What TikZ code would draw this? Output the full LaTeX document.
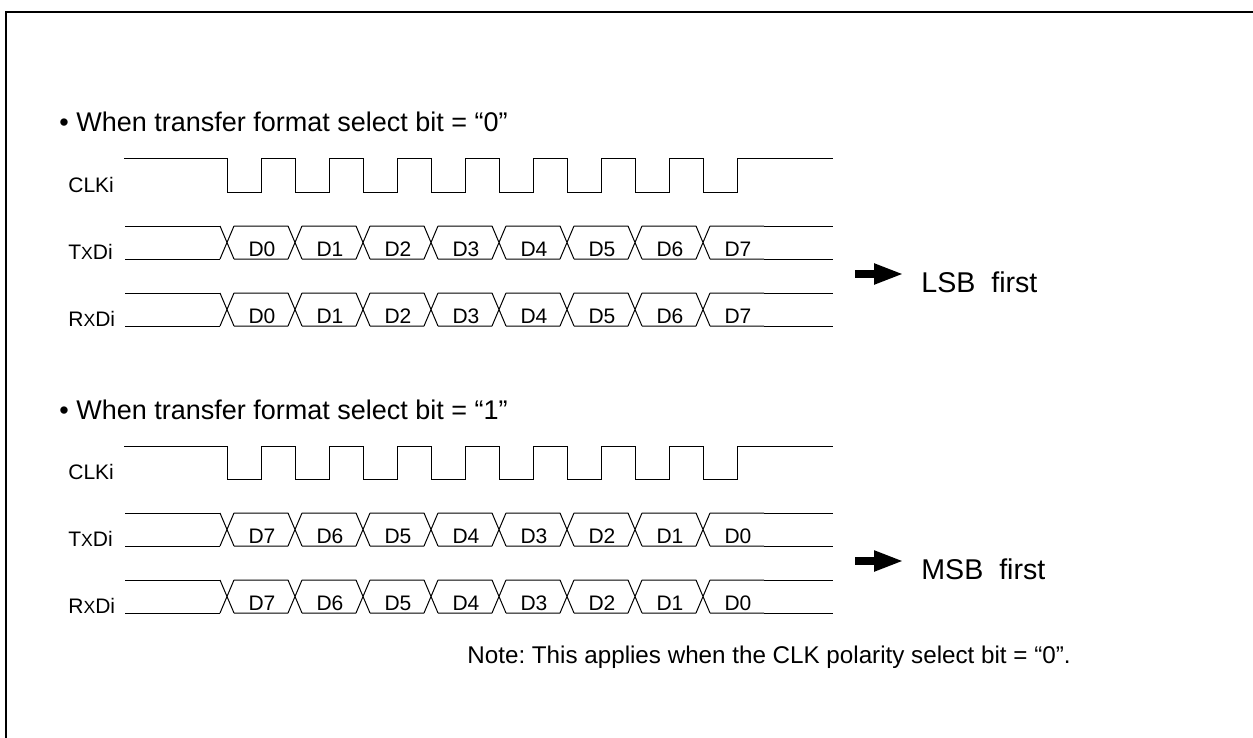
\documentclass[tikz,border=0pt]{standalone}
\usepackage{fontspec}
\setmainfont{Liberation Sans}
\usetikzlibrary{arrows.meta, positioning, calc}
\frenchspacing

\begin{document}
\begin{tikzpicture}[
      x=0.5pt, y=-0.5pt,
      frame/.style={line width=1.4pt},
      wave/.style={line width=0.5pt},
      sig/.style={anchor=base west, inner sep=0pt, font=\fontsize{10.5}{12}\selectfont},
      bit/.style={anchor=base, inner sep=0pt, font=\fontsize{10.5}{12}\selectfont},
      head/.style={anchor=base west, inner sep=0pt, font=\fontsize{13.5}{16}\selectfont},
      order/.style={anchor=base west, inner sep=0pt, font=\fontsize{14.3}{17}\selectfont},
      note/.style={anchor=base west, inner sep=0pt, font=\fontsize{12.1}{14}\selectfont},
      fat/.style={-{Triangle[length=15pt, width=9.5pt]}, line width=4pt}
    ]
    \useasboundingbox (0,0) rectangle (1253,738);
    \draw[frame] (1260,12) -- (6,12) -- (6,745);

    \foreach \sec/\dy/\val/\ord/\first in {lsb/0/0/0/LSB, msb/287/1/7/MSB} {
      \begin{scope}[shift={(0,\dy)}]
        \node[head] (\sec-head) at (59,132) {\textbullet\ When transfer format select bit = “\val”};
        \node[sig] (\sec-clk) at (68,192) {CLKi};
        \node[sig] (\sec-tx) at (68,259) {T{\fontsize{8.8}{10}\selectfont X}Di};
        \node[sig] (\sec-rx) at (68,326) {R{\fontsize{8.8}{10}\selectfont X}Di};
        \draw[wave] (124,159) \foreach \k in {0,...,7} {
            -- ({227+68*\k},159) -- ({227+68*\k},192) -- ({261+68*\k},192) -- ({261+68*\k},159)} -- (833,159);
        \foreach \bus/\yt in {tx/226, rx/293} {
          \pgfmathtruncatemacro\yb{\yt+33}
          \draw[wave] (125,\yt) -- (220,\yt) (125,\yb) -- (220,\yb) (764,\yt) -- (833,\yt) (764,\yb) -- (833,\yb);
          \foreach \k in {0,...,7} {
            \pgfmathtruncatemacro\n{abs(\ord-\k)}
            \draw[wave] ({220+68*\k},\yt) -- ({234+68*\k},\yb) ({220+68*\k},\yb) -- ({234+68*\k},\yt)
              ({234+68*\k},\yt) -- ({288+68*\k},\yt) ({234+68*\k},\yb) -- ({288+68*\k},\yb);
            \node[bit] (\sec-\bus-\k) at ({262+68*\k},{\yb-3}) {D\n};
          }
        }
        \node[order] (\sec-order) at (921,292) {\first\ \ first};
        \coordinate (\sec-tail) at (855,274);
        \draw[fat, shorten >=8.5pt] (\sec-tail) -- (\sec-tail -| \sec-order.west);
      \end{scope}
    }

    \node[note] (note) at (467,663) {Note: This applies when the CLK polarity select bit = “0”.};
  \end{tikzpicture}
\end{document}
